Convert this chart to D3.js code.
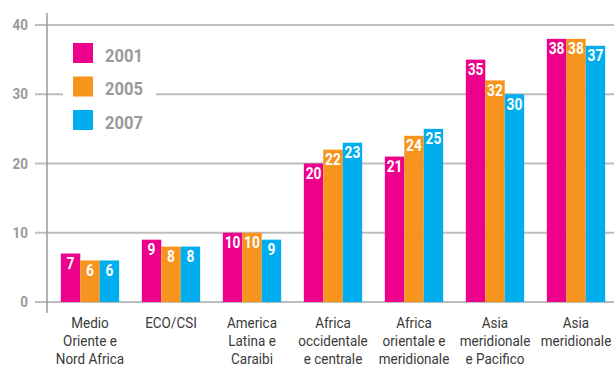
<!DOCTYPE html>
<html>
<head>
<meta charset="utf-8">
<script src="https://cdn.jsdelivr.net/npm/d3@7"></script>
<style>
  html, body { margin: 0; padding: 0; background: #fff; }
  svg { display: block; }
  .cond { font-family: "Roboto", "Liberation Sans", sans-serif; }
</style>
</head>
<body>
<svg id="chart" width="614" height="368"></svg>
<script>
// Regions (label lines) and values per year
const categories = [
  ["Medio", "Oriente e", "Nord Africa"],
  ["ECO/CSI"],
  ["America", "Latina e", "Caraibi"],
  ["Africa", "occidentale", "e centrale"],
  ["Africa", "orientale e", "meridionale"],
  ["Asia", "meridionale", "e Pacifico"],
  ["Asia", "meridionale"]
];
const years = ["2001", "2005", "2007"];
const values2001 = [7, 9, 10, 20, 21, 35, 38];
const values2005 = [6, 8, 10, 22, 24, 32, 38];
const values2007 = [6, 8, 9, 23, 25, 30, 37];
const yTicks = [0, 10, 20, 30, 40];
const colors = ["#EC008C", "#F7941D", "#00AEEF"];

const series = [values2001, values2005, values2007];
const svg = d3.select("#chart");

// Narrow text: horizontally squeezed around its anchor point
function narrowText(sel, x, yPos, squeeze) {
  return sel.append("g")
    .attr("transform", `translate(${x},${yPos}) scale(${squeeze},1)`)
    .append("text")
    .attr("class", "cond");
}

const x0 = d3.scaleBand()
  .domain(d3.range(categories.length))
  .range([49.5, 616.5])
  .paddingInner(0.28)
  .paddingOuter(0.14);
const x1 = d3.scaleBand()
  .domain(d3.range(years.length))
  .range([0, x0.bandwidth()]);
const y = d3.scaleLinear().domain([0, 40]).range([302, 25]);

// Horizontal gridlines
svg.append("g").selectAll("line")
  .data(yTicks).join("line")
  .attr("x1", 35).attr("x2", 614)
  .attr("y1", d => y(d)).attr("y2", d => y(d))
  .attr("stroke", "#bdbdbd").attr("stroke-width", 2);

// Tick labels
const tickG = svg.append("g");
yTicks.forEach(d => {
  narrowText(tickG, 28, y(d) + 5, 0.9)
    .attr("text-anchor", "end")
    .attr("font-size", 15).attr("font-weight", "bold")
    .attr("fill", "#9a9a9a")
    .text(d);
});

// Vertical axis line
svg.append("line")
  .attr("x1", 47).attr("x2", 47).attr("y1", 13).attr("y2", 313)
  .attr("stroke", "#9a9a9a").attr("stroke-width", 1.5);

// Bars with values and region labels
const groups = svg.append("g").selectAll("g")
  .data(categories).join("g")
  .attr("transform", (d, i) => `translate(${x0(i)},0)`);

groups.each(function(cat, ci) {
  const g = d3.select(this);
  series.forEach((vals, si) => {
    const v = vals[ci];
    g.append("rect")
      .attr("x", x1(si))
      .attr("width", x1.bandwidth())
      .attr("y", y(v))
      .attr("height", y(0) - y(v))
      .attr("fill", colors[si]);
    narrowText(g, x1(si) + x1.bandwidth() / 2, y(v) + 15.5, 0.86)
      .attr("text-anchor", "middle")
      .attr("font-size", 16).attr("font-weight", "bold")
      .attr("fill", "#fff")
      .text(v);
  });
  cat.forEach((line, li) => {
    narrowText(g, x0.bandwidth() / 2, 328 + li * 18, 0.87)
      .attr("text-anchor", "middle")
      .attr("font-size", 15.5)
      .attr("fill", "#3a3a3a")
      .text(line);
  });
});

// Legend
const legend = svg.append("g");
legend.append("rect")
  .attr("x", 63).attr("y", 35).attr("width", 93).attr("height", 100)
  .attr("fill", "#fff");
years.forEach((yr, i) => {
  const top = 43 + i * 33.5;
  legend.append("rect")
    .attr("x", 73).attr("y", top).attr("width", 20).attr("height", 20)
    .attr("fill", colors[i]);
  narrowText(legend, 105, top + 18.5, 0.92)
    .attr("font-size", 18).attr("font-weight", "bold")
    .attr("fill", "#9a9a9a")
    .text(yr);
});
</script>
</body>
</html>
